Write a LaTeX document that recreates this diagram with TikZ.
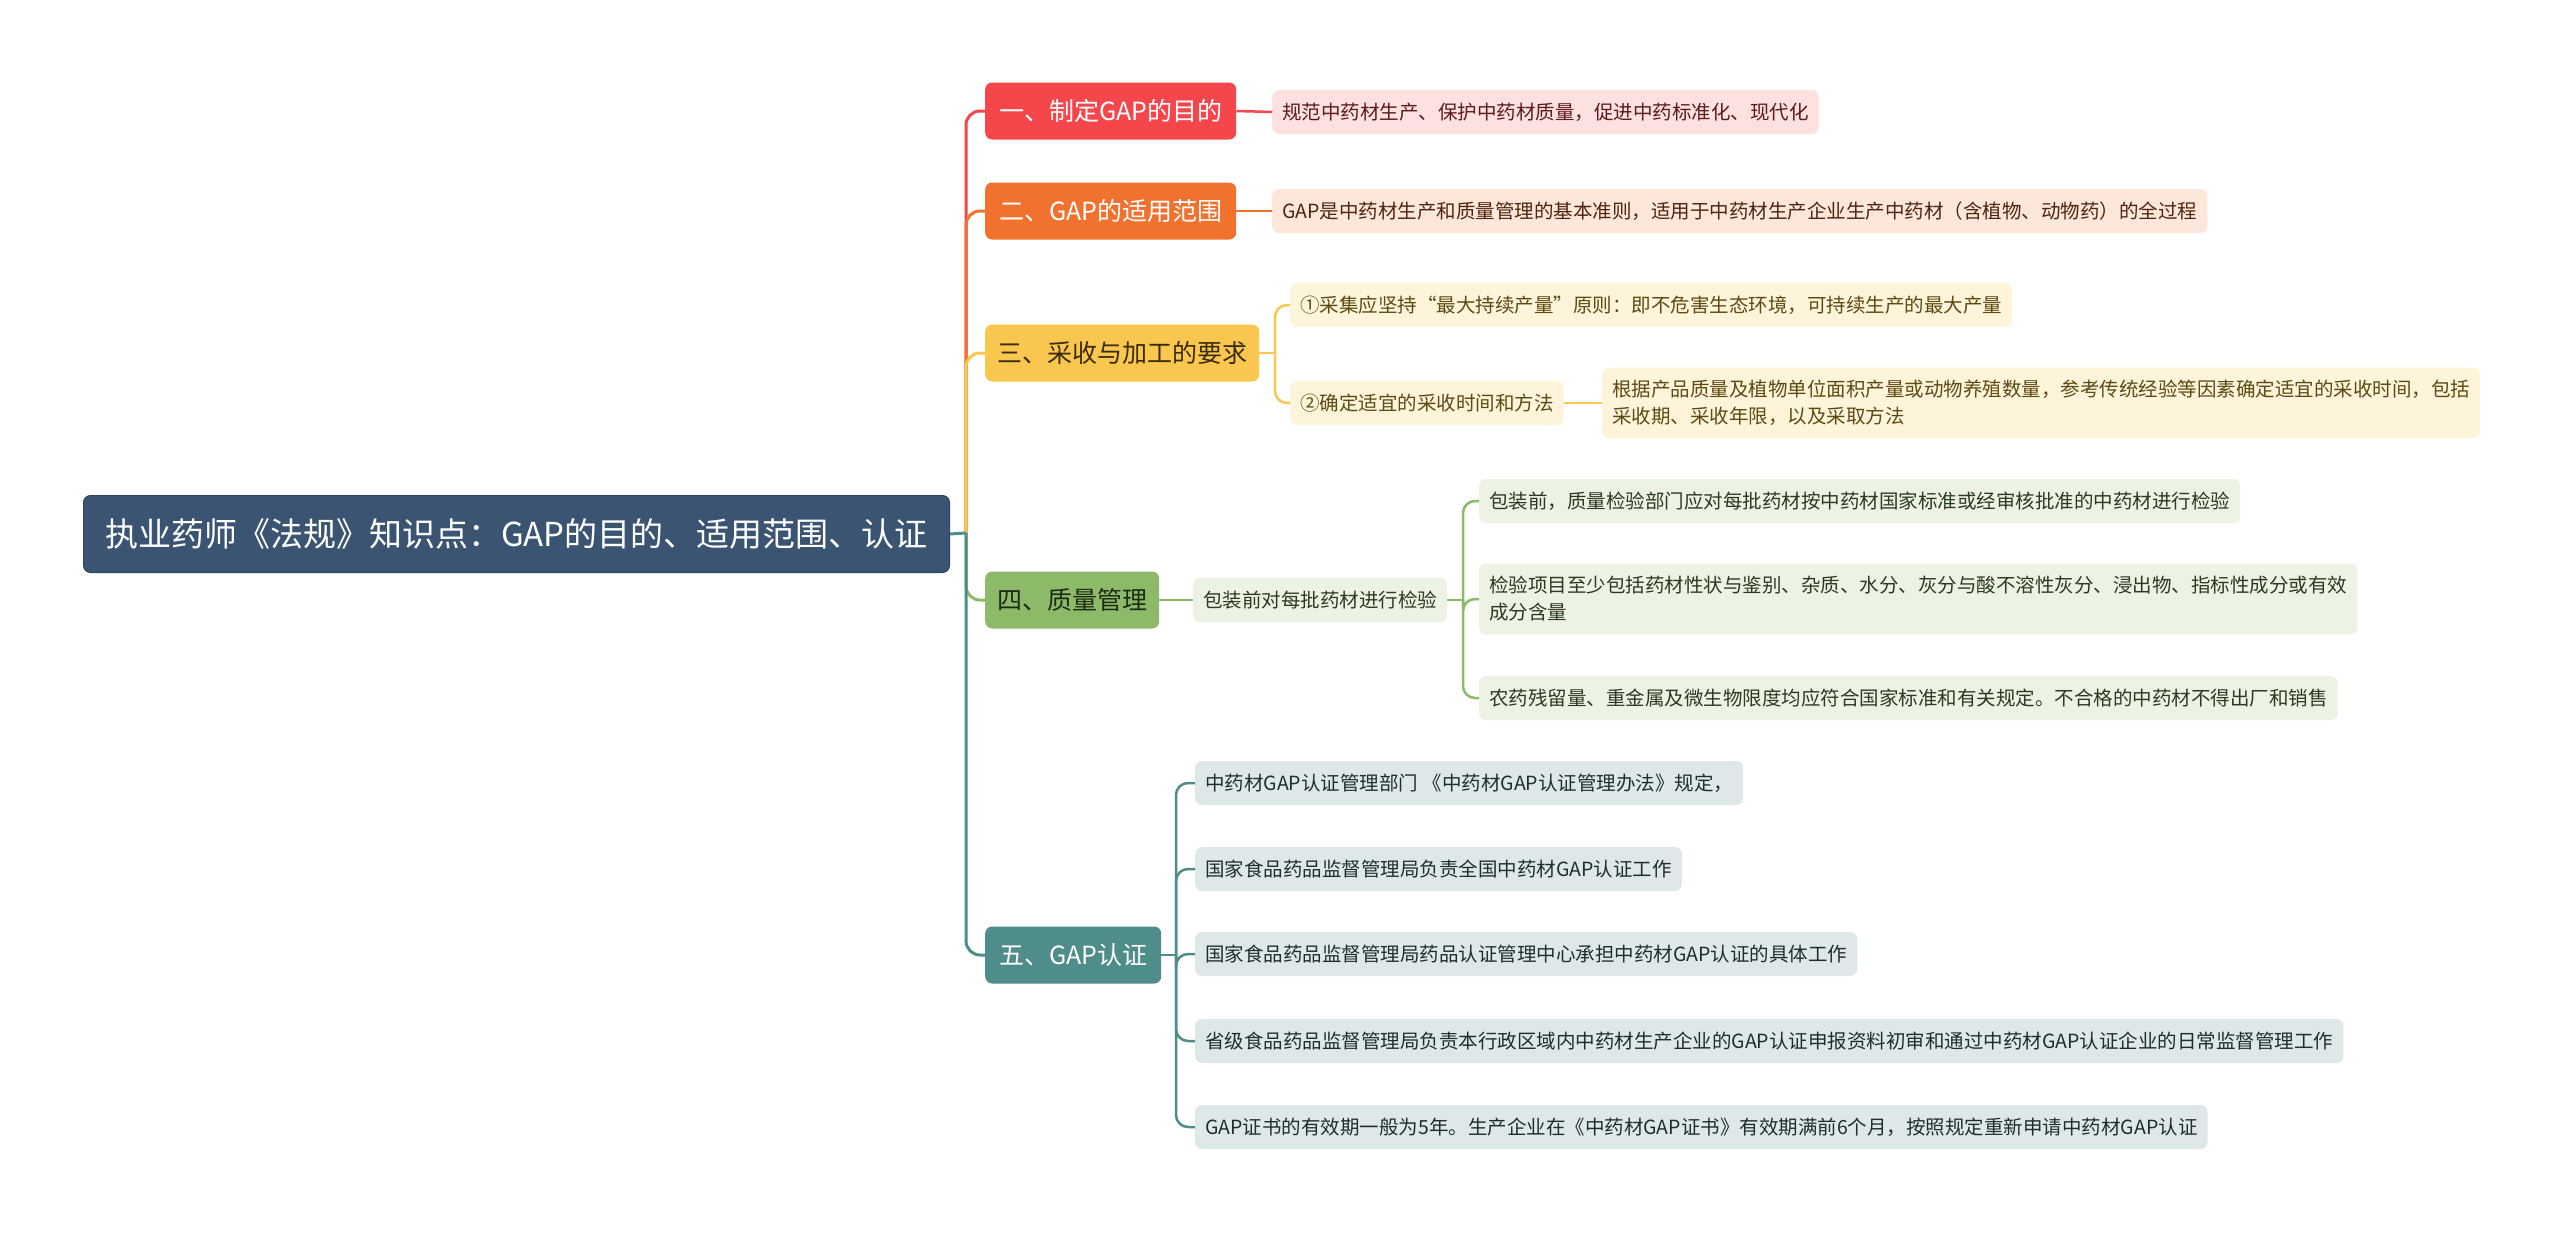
\documentclass[tikz,border=0pt]{standalone}
\usepackage{fontspec}
\setmainfont{Noto Sans CJK SC}
\definecolor{rootc}{HTML}{3A5472}
\definecolor{rootd}{HTML}{2E4560}
\definecolor{ca}{HTML}{F5464B}
\definecolor{cal}{HTML}{FDE0E0}
\definecolor{cat}{HTML}{5C1A1A}
\definecolor{cb}{HTML}{F1722F}
\definecolor{cbl}{HTML}{FDE6DA}
\definecolor{cbt}{HTML}{4D2510}
\definecolor{cc}{HTML}{F9C74F}
\definecolor{ccl}{HTML}{FEF4DA}
\definecolor{cct}{HTML}{5C4A12}
\definecolor{cch}{HTML}{3A2D05}
\definecolor{cd}{HTML}{8DBA69}
\definecolor{cdl}{HTML}{ECF3E5}
\definecolor{cdt}{HTML}{2C3A20}
\definecolor{cdh}{HTML}{1E2A14}
\definecolor{ce}{HTML}{4E8D89}
\definecolor{cel}{HTML}{DEE8E8}
\definecolor{cet}{HTML}{1E2E2E}
\begin{document}
\begin{tikzpicture}[x=1pt,y=-1pt,
  rootbox/.style={fill=rootc, draw=rootd, line width=1pt, rounded corners=7pt, text=white,
    font=\fontsize{33}{40}\selectfont, minimum height=77pt, minimum width=866pt, inner xsep=10pt, anchor=west},
  lonebox/.style={rounded corners=7pt, minimum height=57pt, inner xsep=12pt,
    font=\fontsize{25}{30}\selectfont, anchor=west},
  ltwobox/.style={rounded corners=7pt, minimum height=44pt, inner xsep=10pt,
    font=\fontsize{19.5}{27}\selectfont, anchor=west, align=left},
  conn/.style={line width=3pt, rounded corners=14pt},
  connb/.style={line width=2.5pt, rounded corners=12pt}
]
\useasboundingbox (0,0) rectangle (2560,1232);
\fill[white] (0,0) rectangle (2560,1232);

% root
\node[rootbox] (root) at (83,534) {执业药师《法规》知识点：GAP的目的、适用范围、认证};

% level 1
\node[lonebox, fill=ca, text=white, minimum width=251pt] (n1) at (985,111) {一、制定GAP的目的};
\node[lonebox, fill=cb, text=white, minimum width=251pt] (n2) at (985,211) {二、GAP的适用范围};
\node[lonebox, fill=cc, text=cch, minimum width=274pt] (n3) at (985,353) {三、采收与加工的要求};
\node[lonebox, fill=cd, text=cdh, minimum width=174pt] (n4) at (985,600) {四、质量管理};
\node[lonebox, fill=ce, text=white, minimum width=176pt] (n5) at (985,955) {五、GAP认证};

% level 2
\node[ltwobox, fill=cal, text=cat] (a1) at (1272,112) {规范中药材生产、保护中药材质量，促进中药标准化、现代化};
\node[ltwobox, fill=cbl, text=cbt] (b1) at (1272,211) {GAP是中药材生产和质量管理的基本准则，适用于中药材生产企业生产中药材（含植物、动物药）的全过程};
\node[ltwobox, fill=ccl, text=cct] (c1) at (1290,305) {①采集应坚持“最大持续产量”原则：即不危害生态环境，可持续生产的最大产量};
\node[ltwobox, fill=ccl, text=cct] (c2) at (1290,403) {②确定适宜的采收时间和方法};
\node[ltwobox, fill=ccl, text=cct, minimum height=71pt] (c3) at (1602,403) {根据产品质量及植物单位面积产量或动物养殖数量，参考传统经验等因素确定适宜的采收时间，包括\\采收期、采收年限，以及采取方法};
\node[ltwobox, fill=cdl, text=cdt] (d1) at (1193,600) {包装前对每批药材进行检验};
\node[ltwobox, fill=cdl, text=cdt] (d2) at (1479,501) {包装前，质量检验部门应对每批药材按中药材国家标准或经审核批准的中药材进行检验};
\node[ltwobox, fill=cdl, text=cdt, minimum height=71pt] (d3) at (1479,599) {检验项目至少包括药材性状与鉴别、杂质、水分、灰分与酸不溶性灰分、浸出物、指标性成分或有效\\成分含量};
\node[ltwobox, fill=cdl, text=cdt] (d4) at (1479,698) {农药残留量、重金属及微生物限度均应符合国家标准和有关规定。不合格的中药材不得出厂和销售};
\node[ltwobox, fill=cel, text=cet] (e1) at (1195,783) {中药材GAP认证管理部门 《中药材GAP认证管理办法》规定，};
\node[ltwobox, fill=cel, text=cet] (e2) at (1195,869) {国家食品药品监督管理局负责全国中药材GAP认证工作};
\node[ltwobox, fill=cel, text=cet] (e3) at (1195,954) {国家食品药品监督管理局药品认证管理中心承担中药材GAP认证的具体工作};
\node[ltwobox, fill=cel, text=cet] (e4) at (1195,1041) {省级食品药品监督管理局负责本行政区域内中药材生产企业的GAP认证申报资料初审和通过中药材GAP认证企业的日常监督管理工作};
\node[ltwobox, fill=cel, text=cet] (e5) at (1195,1127) {GAP证书的有效期一般为5年。生产企业在《中药材GAP证书》有效期满前6个月，按照规定重新申请中药材GAP认证};

% spines
\coordinate (sp) at (966,533);
\coordinate (sc) at (1275,353);
\coordinate (sd) at (1463,600);
\coordinate (se) at (1176,955);

\draw[conn, ca] (sp) |- (n1.west);
\draw[conn, cb] (sp) |- (n2.west);
\draw[conn, cc] (sp) |- (n3.west);
\draw[conn, cd] (sp) |- (n4.west);
\draw[conn, ce] (sp) |- (n5.west);
\draw[conn, ce] (root.east) -- (sp);

\draw[connb, ca] (n1.east) -- (a1.west);
\draw[connb, cb] (n2.east) -- (b1.west);
\draw[connb, cc] (n3.east) -- (sc);
\draw[connb, cc] (sc) |- (c1.west);
\draw[connb, cc] (sc) |- (c2.west);
\draw[connb, cc] (c2.east) -- (c3.west);
\draw[connb, cd] (n4.east) -- (d1.west);
\draw[connb, cd] (d1.east) -- (sd);
\draw[connb, cd] (sd) |- (d2.west);
\draw[connb, cd] (sd) |- (d3.west);
\draw[connb, cd] (sd) |- (d4.west);
\draw[connb, ce] (n5.east) -- (se);
\draw[connb, ce] (se) |- (e1.west);
\draw[connb, ce] (se) |- (e2.west);
\draw[connb, ce] (se) |- (e3.west);
\draw[connb, ce] (se) |- (e4.west);
\draw[connb, ce] (se) |- (e5.west);
\end{tikzpicture}
\end{document}
